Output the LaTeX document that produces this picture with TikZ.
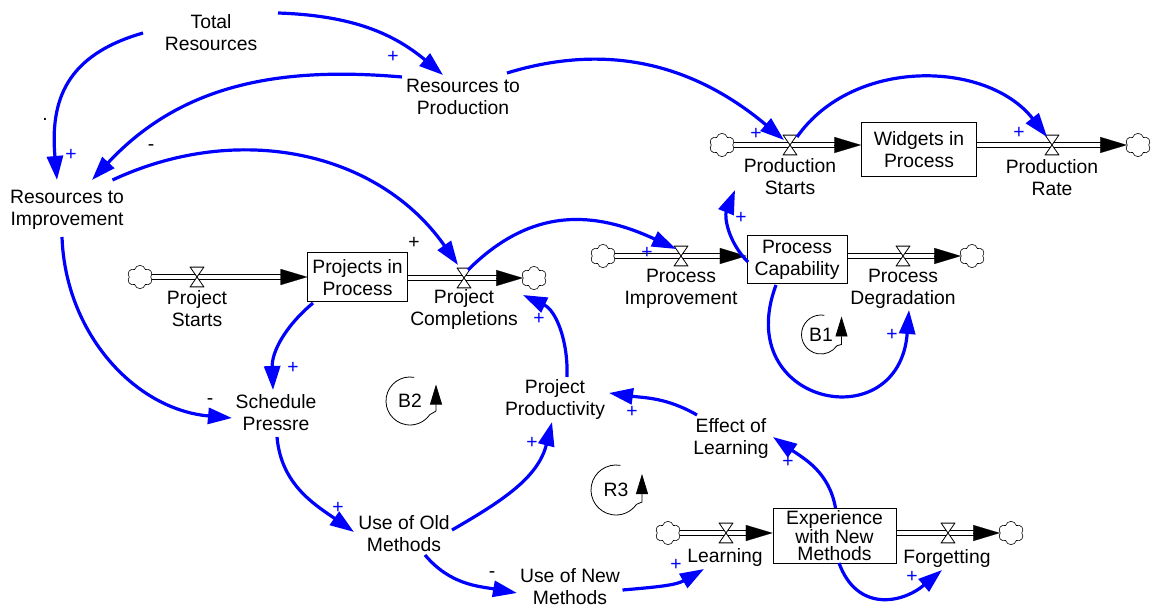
\documentclass[tikz,border=0pt]{standalone}
\usepackage{fontspec}
\setmainfont{Liberation Sans}
\usetikzlibrary{arrows.meta,shapes.symbols,calc,backgrounds}
\definecolor{linkblue}{RGB}{0,0,255}
\tikzset{
  every node/.style={font=\fontsize{14.5}{16.5}\selectfont},
  auxvar/.style={align=center, inner sep=0pt},
  stock/.style={draw, line width=0.75pt, fill=white, align=center, inner sep=0pt},
  valve/.style={minimum width=11pt, minimum height=15.5pt, inner sep=0pt,
    path picture={\draw[line width=0.6pt, fill=white]
      ([shift={(0.35pt,-0.35pt)}]path picture bounding box.north west) --
      ([shift={(-0.35pt,-0.35pt)}]path picture bounding box.north east) --
      ([shift={(0.35pt,0.35pt)}]path picture bounding box.south west) --
      ([shift={(-0.35pt,0.35pt)}]path picture bounding box.south east) -- cycle;}},
  sourcesink/.style={cloud, cloud puffs=6, cloud puff arc=150, aspect=1.05, draw,
    line width=0.45pt, fill=white, minimum width=19pt, minimum height=17.5pt, inner sep=0pt},
  pipe/.style={line width=0.75pt, double, double distance=2.7pt},
  pipehead/.style={line width=0.1pt, -{Triangle[length=20pt,width=12pt]}},
  link/.style={linkblue, line width=2.4pt, -{Triangle[length=18pt,width=12pt]}},
  posmark/.style={text=linkblue, inner sep=0pt},
  negmark/.style={inner sep=0pt},
  loopline/.style={line width=0.6pt, -{Triangle[length=15pt,width=9pt]}},
}
\begin{document}
\begin{tikzpicture}[x=0.75pt,y=0.75pt]
\useasboundingbox (0,0) rectangle (1151,607);
\begin{pgfonlayer}{background}
  \fill[white] (0,0) rectangle (1151,607);
\end{pgfonlayer}

% auxiliary variables
\node[auxvar] (totres)   at (211,574) {Total\\Resources};
\node[auxvar] (resprod)  at (463,510) {Resources to\\Production};
\node[auxvar] (resimp)   at (67,397)  {Resources to\\Improvement};
\node[auxvar] (schedp)   at (276,194) {Schedule\\Pressre};
\node[auxvar] (oldm)     at (404,73)  {Use of Old\\Methods};
\node[auxvar] (newm)     at (570,20)  {Use of New\\Methods};
\node[auxvar] (prodty)   at (555,207) {Project\\Productivity};
\node[auxvar] (efflearn) at (731,168) {Effect of\\Learning};

% stocks
\node[stock, minimum width=74.5pt, minimum height=36.75pt] (projects) at (357.5,329.5) {Projects in\\Process};
\node[stock, minimum width=86.25pt, minimum height=40.5pt] (widgets) at (919,457) {Widgets in\\Process};
\node[stock, minimum width=75pt, minimum height=36pt] (proccap) at (797,347) {Process\\Capability};
\node[stock, minimum width=92.25pt, minimum height=41.25pt,
      font=\fontsize{14.5}{12.8}\selectfont] (experience) at (834.5,71.5) {Experience\\with New\\Methods};

% flow valves
\node[valve] (vPS)  at (790,462) {};
\node[valve] (vPR)  at (1052,462) {};
\node[valve] (vPI)  at (681,351) {};
\node[valve] (vPD)  at (903,351) {};
\node[valve] (vPjS) at (197,330) {};
\node[valve] (vPjC) at (464,329) {};
\node[valve] (vL)   at (726,74) {};
\node[valve] (vF)   at (948,74) {};

% sources and sinks
\node[sourcesink] (c1) at (722,462) {};
\node[sourcesink] (c2) at (1138,462) {};
\node[sourcesink] (c3) at (603,351) {};
\node[sourcesink] (c4) at (972,351) {};
\node[sourcesink] (c5) at (140,330) {};
\node[sourcesink] (c6) at (534,329) {};
\node[sourcesink] (c7) at (668,74) {};
\node[sourcesink] (c8) at (1011,74) {};

% flow names
\node[auxvar] (lPS)  at (790,430)   {Production\\Starts};
\node[auxvar] (lPR)  at (1052,429)  {Production\\Rate};
\node[auxvar] (lPI)  at (681,318.5) {Process\\Improvement};
\node[auxvar] (lPD)  at (903,318.5) {Process\\Degradation};
\node[auxvar] (lPjS) at (197,298)   {Project\\Starts};
\node[auxvar] (lPjC) at (464,297)   {Project\\Completions};
\node[auxvar] (lL)   at (725,50)    {Learning};
\node[auxvar] (lF)   at (947,49)    {Forgetting};

% pipes
\begin{pgfonlayer}{background}
  \draw[pipe] (c1.center) -- ($(widgets.west |- vPS)+(-17pt,0)$);
  \draw[pipehead] ($(widgets.west |- vPS)+(-20pt,0)$) -- (widgets.west |- vPS);
  \draw[pipe] (widgets.east |- vPR) -- ($(c2.west)+(-17pt,0)$);
  \draw[pipehead] ($(c2.west)+(-20pt,0)$) -- (c2.west);

  \draw[pipe] (c3.center) -- ($(proccap.west |- vPI)+(-17pt,0)$);
  \draw[pipehead] ($(proccap.west |- vPI)+(-20pt,0)$) -- (proccap.west |- vPI);
  \draw[pipe] (proccap.east |- vPD) -- ($(c4.west)+(-17pt,0)$);
  \draw[pipehead] ($(c4.west)+(-20pt,0)$) -- (c4.west);

  \draw[pipe] (c5.center) -- ($(projects.west |- vPjS)+(-17pt,0)$);
  \draw[pipehead] ($(projects.west |- vPjS)+(-20pt,0)$) -- (projects.west |- vPjS);
  \draw[pipe] (projects.east |- vPjC) -- ($(c6.west)+(-17pt,0)$);
  \draw[pipehead] ($(c6.west)+(-20pt,0)$) -- (c6.west);

  \draw[pipe] (c7.center) -- ($(experience.west |- vL)+(-17pt,0)$);
  \draw[pipehead] ($(experience.west |- vL)+(-20pt,0)$) -- (experience.west |- vL);
  \draw[pipe] (experience.east |- vF) -- ($(c8.west)+(-17pt,0)$);
  \draw[pipehead] ($(c8.west)+(-20pt,0)$) -- (c8.west);
\end{pgfonlayer}

% causal links
\draw[link] ([shift={(67,20)}]totres.center) to[out=-2,in=140] ([shift={(-20,22)}]resprod.center);
\draw[link] ([shift={(-68,0)}]totres.center) to[out=196,in=95,looseness=1.2] ([shift={(-10,30)}]resimp.center);
\draw[link] ([shift={(-61,20)}]resprod.center) to[out=175,in=47] ([shift={(25,30)}]resimp.center);
\draw[link] ([shift={(45.5,30)}]resimp.center) to[out=25,in=125] ([shift={(-6,13)}]vPjC.center);
\draw[link] ([shift={(44,24)}]resprod.center) to[out=17,in=140] ([shift={(-6,5)}]vPS.center);
\draw[link] ([shift={(7,8)}]vPS.center) to[out=55,in=128] ([shift={(-5,8)}]vPR.center);
\draw[link] ([shift={(4,8)}]vPjC.center) to[out=45,in=155,looseness=1.1] ([shift={(-5,7)}]vPI.center);
\draw[link] ([shift={(-49,-2)}]proccap.center) to[out=135,in=-112] ([shift={(-55,-45)}]vPS.center);
\draw[link] ([shift={(-21,-25)}]proccap.center) .. controls +(-45,-120) and +(-10,-130) .. ([shift={(6,-54)}]vPD.center);
\draw[link] ([shift={(-5,-27)}]resimp.center) to[out=-88,in=175] ([shift={(-44,-5)}]schedp.center);
\draw[link] ([shift={(-44.5,-25.5)}]projects.center) to[out=220,in=92] ([shift={(-3,23)}]schedp.center);
\draw[link] ([shift={(1,-24)}]schedp.center) to[out=-85,in=145] ([shift={(-50,2)}]oldm.center);
\draw[link] ([shift={(48,4)}]oldm.center) to[out=30,in=-104] ([shift={(-3,-22)}]prodty.center);
\draw[link] ([shift={(12,23)}]prodty.center) to[out=88,in=-25] ([shift={(-11,-17)}]c6.center);
\draw[link] ([shift={(-34,24)}]efflearn.center) to[out=150,in=-8] ([shift={(54,7)}]prodty.center);
\draw[link] ([shift={(1,27.5)}]experience.center) to[out=100,in=-35] ([shift={(42,2)}]efflearn.center);
\draw[link] ([shift={(21,-21)}]oldm.center) to[out=-50,in=170] ([shift={(-53,-6)}]newm.center);
\draw[link] ([shift={(52.5,-3)}]newm.center) to[out=5,in=-150] ([shift={(-22,-36)}]vL.center);
\draw[link] ([shift={(4.5,-27.5)}]experience.center) to[out=-70,in=-140,looseness=1.3] ([shift={(-6,-37)}]vF.center);

% link polarities
\node[posmark] (p1)  at (393,550) {+};
\node[posmark] (p2)  at (71,452)  {+};
\node[posmark] (p3)  at (756,473) {+};
\node[posmark] (p4)  at (1019,474) {+};
\node[posmark] (p5)  at (647,354) {+};
\node[posmark] (p6)  at (741,389) {+};
\node[posmark] (p7)  at (892,272) {+};
\node[posmark] (p8)  at (293,239) {+};
\node[posmark] (p9)  at (338,99)  {+};
\node[posmark] (p10) at (532,164) {+};
\node[posmark] (p11) at (539,288) {+};
\node[posmark] (p12) at (632,195) {+};
\node[posmark] (p13) at (788,145) {+};
\node[posmark] (p14) at (676,42)  {+};
\node[posmark] (p15) at (912,30)  {+};
\node[negmark] (n1) at (151,459) {-};
\node[negmark] (n2) at (414,364) {+};
\node[negmark] (n3) at (210,205) {-};
\node[negmark] (n4) at (492,32)  {-};
\node[negmark] (dot) at (45,488) {.};

% loop identifiers
\node[auxvar] (B1) at (821,272.5) {B1};
\draw[loopline] ([shift={(80:19.5)}]B1.center) arc[start angle=80,end angle=325,radius=19.5]
  -- ([shift={(20.5,-10)}]B1.center) -- ([shift={(20.5,18)}]B1.center);
\node[auxvar] (B2) at (410,206) {B2};
\draw[loopline] ([shift={(80:24)}]B2.center) arc[start angle=80,end angle=325,radius=24]
  -- ([shift={(26,-10)}]B2.center) -- ([shift={(26,16.5)}]B2.center);
\node[auxvar] (R3) at (616,117) {R3};
\draw[loopline] ([shift={(80:25)}]R3.center) arc[start angle=80,end angle=325,radius=25]
  -- ([shift={(26,-12)}]R3.center) -- ([shift={(26,16)}]R3.center);
\end{tikzpicture}
\end{document}
